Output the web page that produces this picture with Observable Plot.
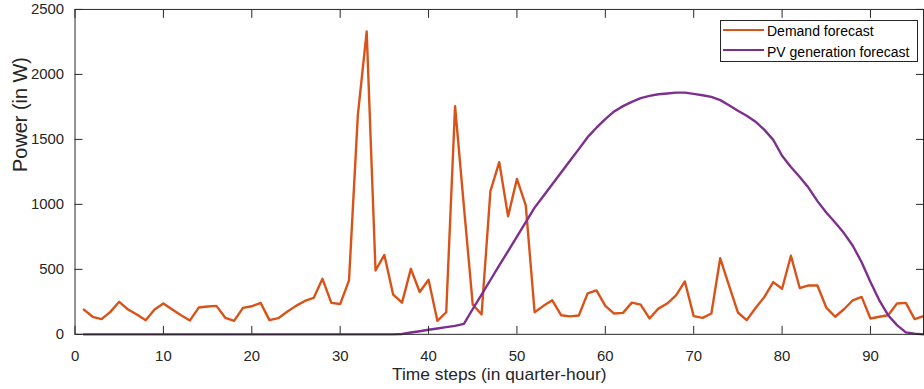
<!DOCTYPE html>
<html>
<head>
<meta charset="utf-8">
<script src="https://cdn.jsdelivr.net/npm/d3@7"></script>
<script src="https://cdn.jsdelivr.net/npm/@observablehq/plot@0.6"></script>
<style>
  html, body { margin: 0; padding: 0; background: #fff; overflow: hidden; }
  #wrap { position: relative; width: 924px; height: 389px; overflow: hidden; font-family: "Liberation Sans", Arial, sans-serif; }
  #wrap svg { display: block; }
  .legend { position: absolute; left: 720px; top: 20px; width: 198px; height: 42px; box-sizing: border-box;
            border: 1px solid #262626; background: #fff; font-size: 14px; color: #000; }
  .legend .sw { position: absolute; left: 2px; width: 41px; height: 2.4px; }
  .legend .lb { position: absolute; left: 46px; line-height: 14px; white-space: nowrap; }
</style>
</head>
<body>
<div id="wrap"></div>
<script>
// Time steps (quarter-hours)
const steps = d3.range(1, 97);

// Demand forecast (W)
const demand = [
  190, 135, 117, 173, 250, 191, 153, 109, 191, 237,
  191, 147, 107, 206, 214, 219, 127, 104, 203, 216,
  242, 109, 124, 173, 219, 257, 280, 427, 242, 233,
  415, 1687, 2330, 491, 611, 305, 244, 504, 326, 420,
  104, 170, 1756, 985, 229, 153, 1102, 1325, 908, 1196,
  992, 170, 219, 262, 147, 138, 145, 315, 338, 219,
  160, 165, 244, 229, 122, 198, 237, 300, 407, 140,
  127, 160, 585, 375, 168, 109, 203, 288, 402, 351,
  605, 356, 376, 376, 206, 135, 193, 262, 288, 122,
  135, 147, 237, 242, 117, 140
];

// PV generation forecast (W)
const pv = [
  0, 0, 0, 0, 0, 0, 0, 0, 0, 0,
  0, 0, 0, 0, 0, 0, 0, 0, 0, 0,
  0, 0, 0, 0, 0, 0, 0, 0, 0, 0,
  0, 0, 0, 0, 0, 0, 3, 14, 24, 35,
  45, 55, 65, 80, 195, 306, 418, 530, 640, 752,
  863, 975, 1065, 1155, 1245, 1335, 1425, 1517, 1590, 1656,
  1715, 1756, 1789, 1817, 1835, 1847, 1853, 1860, 1860, 1850,
  1840, 1827, 1802, 1763, 1720, 1682, 1636, 1573, 1496, 1374,
  1288, 1211, 1127, 1025, 937, 860, 779, 682, 555, 402,
  262, 147, 71, 15, 5, 0
];

const xTicks = [0, 10, 20, 30, 40, 50, 60, 70, 80, 90];
const yTicks = [0, 500, 1000, 1500, 2000, 2500];
const seriesNames = ["Demand forecast", "PV generation forecast"];
const seriesColors = ["#D95319", "#7E2F8E"];
const xTitle = "Time steps (in quarter-hour)";
const yTitle = "Power (in W)";

const rows = steps.map((t, i) => ({t, demand: demand[i], pv: pv[i]}));
const noLabel = () => "";
const TICK = 8;

const chart = Plot.plot({
  width: 930,
  height: 389,
  marginLeft: 75,
  marginRight: 1,
  marginTop: 9,
  marginBottom: 53,
  style: {fontFamily: "'Liberation Sans', Arial, sans-serif", color: "#262626", background: "white", overflow: "visible"},
  x: {domain: [0, 96]},
  y: {domain: [0, 2500]},
  marks: [
    Plot.line(rows, {x: "t", y: "demand", stroke: seriesColors[0], strokeWidth: 2.4}),
    Plot.line(rows, {x: "t", y: "pv", stroke: seriesColors[1], strokeWidth: 2.4}),
    Plot.frame({stroke: "#262626"}),
    // inward tick marks on all four sides
    Plot.axisX({ticks: xTicks, anchor: "bottom", tickSize: TICK, dy: -TICK, tickFormat: noLabel, label: null}),
    Plot.axisX({ticks: xTicks, anchor: "top", tickSize: TICK, dy: TICK, tickFormat: noLabel, label: null}),
    Plot.axisY({ticks: yTicks, anchor: "left", tickSize: TICK, dx: TICK, tickFormat: noLabel, label: null}),
    Plot.axisY({ticks: yTicks, anchor: "right", tickSize: TICK, dx: -TICK, tickFormat: noLabel, label: null}),
    // tick labels
    Plot.axisX({ticks: xTicks, anchor: "bottom", tickSize: 0, tickPadding: 16, fontSize: 15, tickFormat: d => String(d), label: null}),
    Plot.axisY({ticks: yTicks, anchor: "left", tickSize: 0, tickPadding: 11, fontSize: 15, tickFormat: d => String(d), label: null}),
    // axis titles
    Plot.text([xTitle], {text: d => d, frameAnchor: "bottom", dy: 40, fontSize: 17.5, lineAnchor: "middle"}),
    Plot.text([yTitle], {text: d => d, frameAnchor: "left", dx: -55, rotate: -90, fontSize: 20, lineAnchor: "middle"})
  ]
});

const wrap = document.getElementById("wrap");
wrap.appendChild(chart);

// Legend (inside the plot area, top right)
const legend = document.createElement("div");
legend.className = "legend";
const swTops = [8, 28];
const lbTops = [3, 24];
seriesNames.forEach((name, i) => {
  const sw = document.createElement("div");
  sw.className = "sw";
  sw.style.top = swTops[i] + "px";
  sw.style.background = seriesColors[i];
  legend.appendChild(sw);
  const lb = document.createElement("div");
  lb.className = "lb";
  lb.style.top = lbTops[i] + "px";
  lb.textContent = name;
  legend.appendChild(lb);
});
wrap.appendChild(legend);
</script>
</body>
</html>
